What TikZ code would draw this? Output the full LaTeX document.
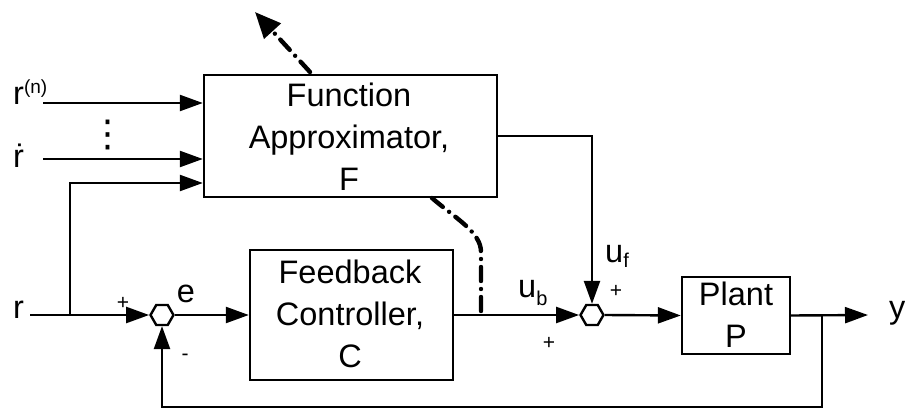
\documentclass[tikz,border=0pt]{standalone}
\usepackage{fontspec}
\setmainfont{Liberation Sans}
\newfontfamily\symfont{DejaVu Sans}
\usetikzlibrary{arrows.meta,shapes.geometric}
\begin{document}
\begin{tikzpicture}[x=1pt,y=-1pt,
  blk/.style={draw,line width=2.4pt,inner sep=0pt},
  sumj/.style={draw,line width=2.4pt,regular polygon,regular polygon sides=6,minimum size=23pt,inner sep=0pt},
  sig/.style={line width=2.4pt,-{Triangle[length=23pt,width=16pt]}},
  wire/.style={line width=2.4pt},
  lbl/.style={font=\fontsize{32.5}{42}\selectfont,inner sep=0pt,align=center},
  sgn/.style={font=\fontsize{21}{21}\selectfont,inner sep=0pt},
  adapt/.style={line width=4.4pt,line cap=round,dash pattern=on 14pt off 8pt on 0pt off 8pt}
]
\useasboundingbox (0,0) rectangle (905,412);

% blocks
\node[blk,minimum width=293pt,minimum height=122pt] (fa) at (350.5,136) {};
\node[blk,minimum width=203pt,minimum height=130pt] (fb) at (351.5,315) {};
\node[blk,minimum width=108pt,minimum height=77pt] (pl) at (736,315.5) {};
\node[lbl,anchor=base] (fatext) at (349,190) {Function\\Approximator,\\F};
\node[lbl,anchor=base] (fbtext) at (350,367) {Feedback\\Controller,\\C};
\node[lbl,anchor=base] (pltext) at (736,347) {Plant\\P};

% summing junctions
\node[sumj] (s1) at (162,315) {};
\node[sumj] (s2) at (592,315) {};

% input signals
\coordinate (rn) at (43,103);
\coordinate (rd) at (43,159);
\coordinate (rin) at (30,315);
\coordinate (rbr) at (70,315);
\coordinate (rup) at (70,183);
\draw[sig] (rn) -- (rn -| fa.west);
\draw[sig] (rd) -- (rd -| fa.west);
\draw[sig] (rbr) -- (rup) -- (rup -| fa.west);
\draw[sig] (rin) -- (s1.west);

% main loop
\draw[sig] (s1.east) -- (fb.west);
\draw[sig] (fb.east) -- (s2.west);
\draw[sig] (fa.east) -| (s2.north);
\draw[sig] (s2.east) -- (pl.west);
\coordinate (yout) at (868,315);
\coordinate (fbp) at (822,315);
\coordinate (fbb) at (822,407);
\draw[sig] (pl.east) -- (yout);
\draw[sig] (fbp) -- (fbb) -| (s1.south);

% adaptation signals
\coordinate (a1) at (481,311);
\coordinate (a2) at (481,252);
\coordinate (a3) at (432,198);
\draw[adapt] (a1) -- (a2) .. controls (481,232) and (455,218) .. (a3);
\coordinate (t1) at (310,72);
\coordinate (t2) at (255,12);
\draw[adapt,-{Triangle[length=26pt,width=22pt]}] (t1) -- (t2);

% labels
\node[lbl,anchor=base west] (lrn) at (13,104) {r\raisebox{11pt}{\fontsize{19}{19}\selectfont(n)}};
\node[lbl,anchor=base west] (lrd) at (13,167) {\.{r}};
\node[font=\symfont\fontsize{37}{37}\selectfont,inner sep=0pt] (vd) at (108,135) {⋮};
\node[lbl,anchor=base west] (lr) at (13,318) {r};
\node[sgn] (p1) at (123,303) {+};
\node[lbl,anchor=base] (le) at (186,302) {e};
\node[sgn] (m1) at (185,357) {-};
\node[lbl,anchor=base west] (lub) at (518,297) {u{\fontsize{20}{20}\selectfont\raisebox{-8pt}{b}}};
\node[sgn] (p2) at (549,343) {+};
\node[sgn] (p3) at (616,291) {+};
\node[lbl,anchor=base west] (luf) at (605,262) {u{\fontsize{20}{20}\selectfont\raisebox{-5pt}{f}}};
\node[lbl,anchor=base west] (ly) at (889,318) {y};
\end{tikzpicture}
\end{document}
